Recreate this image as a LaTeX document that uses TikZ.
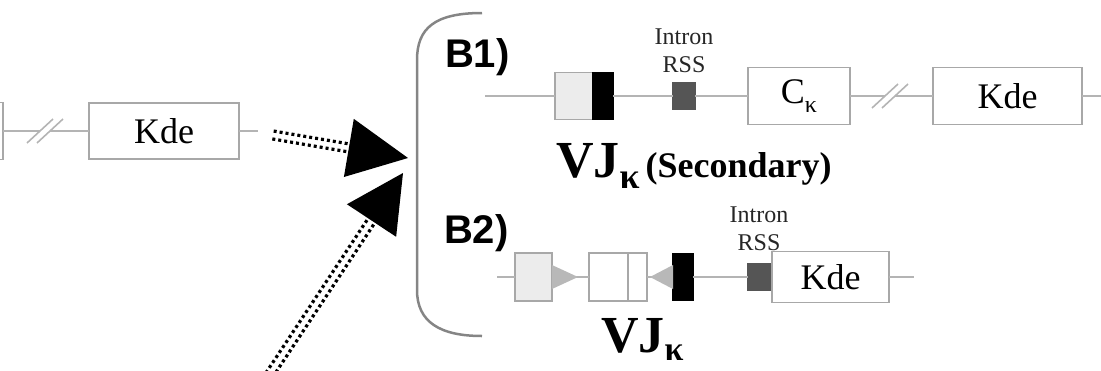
\documentclass[tikz,border=0pt]{standalone}
\usepackage{fontspec}
\setmainfont{Liberation Serif}
\setsansfont{Liberation Sans}
\usetikzlibrary{positioning, calc}
\definecolor{strandgrey}{HTML}{B4B4B4}
\definecolor{boxgrey}{HTML}{A8A8A8}
\definecolor{palegrey}{HTML}{ECECEC}
\definecolor{rssgrey}{HTML}{555555}
\definecolor{wedgegrey}{HTML}{B8B8B8}
\definecolor{bracketgrey}{HTML}{858585}

\begin{document}
\begin{tikzpicture}[x=1pt, y=-1pt,
    every node/.style={inner sep=0pt, outer sep=0pt},
    gene/.style={rectangle, draw=boxgrey, line width=1.6pt, fill=white, minimum height=57pt, font=\fontsize{36}{36}\selectfont},
    segment/.style={rectangle, draw=boxgrey, line width=1.6pt, minimum height=47pt},
    strand/.style={draw=strandgrey, line width=2pt},
    slashmark/.style={draw=strandgrey, line width=1.6pt},
    intron/.style={font=\fontsize{24}{28}\selectfont, align=center, text=black!85},
    shaft/.style={line width=3.2pt, dash pattern=on 3pt off 3pt},
    tag/.style={font=\sffamily\bfseries\fontsize{40}{40}\selectfont, anchor=base west}]
    \useasboundingbox (0,0) rectangle (1101,370);

    % upstream Kde
    \node (prevgene) [gene, minimum width=120pt, anchor=east] at (3,131) {};
    \node (kdeL) [gene, minimum width=150pt, minimum height=56pt] at (164,131) {Kde};
    \coordinate (cutL1) at (40,131);
    \coordinate (cutL2) at (50,131);
    \coordinate (stubL) at (258,131);
    \draw[strand] (prevgene.east) -- (cutL1);
    \draw[strand] (cutL2) -- (kdeL.west);
    \draw[strand] (kdeL.east) -- (stubL);
    \draw[slashmark] ($(cutL1)+(-13,12)$) -- ($(cutL1)+(13,-12)$);
    \draw[slashmark] ($(cutL2)+(-13,12)$) -- ($(cutL2)+(13,-12)$);

    % bracket
    \draw[bracketgrey, line width=2.5pt] (482,13) .. controls (435,13) and (417,28) .. (417,60) -- (417,290) .. controls (417,322) and (440,336) .. (482,336);

    % arrows
    \coordinate (tailA) at (273,135);
    \coordinate (tipA) at (408,158);
    \coordinate (tailB) at (266,380);
    \coordinate (tipB) at (403,173);
    \coordinate (baseA) at ($(tipA)!60pt!(tailA)$);
    \coordinate (baseB) at ($(tipB)!57pt!(tailB)$);
    \draw[shaft] ($(tailA)!4pt!90:(tipA)$) -- ($(baseA)!4pt!90:(tipA)$);
    \draw[shaft] ($(tailA)!4pt!-90:(tipA)$) -- ($(baseA)!4pt!-90:(tipA)$);
    \draw[shaft] ($(tailB)!4pt!90:(tipB)$) -- ($(baseB)!4pt!90:(tipB)$);
    \draw[shaft] ($(tailB)!4pt!-90:(tipB)$) -- ($(baseB)!4pt!-90:(tipB)$);
    \fill ($(baseA)!29.5pt!90:(tipA)$) -- (tipA) -- ($(baseA)!29.5pt!-90:(tipA)$) -- cycle;
    \fill ($(baseB)!29.5pt!90:(tipB)$) -- (tipB) -- ($(baseB)!29.5pt!-90:(tipB)$) -- cycle;

    % B1 row
    \node (tagA) [tag] at (445,67) {B1)};
    \coordinate (startA) at (485,96);
    \node (vA) [segment, fill=palegrey, minimum width=38pt] at (574,96) {};
    \node (jA) [segment, fill=black, draw=black, minimum width=20pt, right=0pt of vA] {};
    \node (rssA) [segment, fill=rssgrey, draw=rssgrey, minimum width=22pt, minimum height=27pt] at (684,96) {};
    \node (ck) [gene, minimum width=102pt] at (799,96) {C\raisebox{-9pt}{\fontsize{24}{24}\selectfont κ}};
    \coordinate (cutA1) at (885,96);
    \coordinate (cutA2) at (895,96);
    \node (kdeA) [gene, minimum width=149pt] at (1007.5,96) {Kde};
    \coordinate (endA) at (1110,96);
    \draw[strand] (startA) -- (vA.west);
    \draw[strand] (jA.east) -- (rssA.west);
    \draw[strand] (rssA.east) -- (ck.west);
    \draw[strand] (ck.east) -- (cutA1);
    \draw[strand] (cutA2) -- (kdeA.west);
    \draw[strand] (kdeA.east) -- (endA);
    \draw[slashmark] ($(cutA1)+(-13,12)$) -- ($(cutA1)+(13,-12)$);
    \draw[slashmark] ($(cutA2)+(-13,12)$) -- ($(cutA2)+(13,-12)$);
    \node (rssAtxt) [intron, anchor=south] at ([yshift=10pt]rssA.north) {Intron\\RSS};
    \node (vjAtxt) [anchor=base west, font=\bfseries\fontsize{52}{52}\selectfont] at (556,177) {VJ\raisebox{-11pt}{\fontsize{36}{36}\selectfont κ}{\fontsize{36}{36}\selectfont\,(Secondary)}};

    % B2 row
    \node (tagB) [tag] at (444,243) {B2)};
    \coordinate (startB) at (497,277);
    \node (vB) [segment, fill=palegrey, minimum width=37pt, minimum height=48pt] at (533.5,277) {};
    \node (w1B) [segment, fill=white, minimum width=39pt, minimum height=48pt] at (608.5,277) {};
    \node (w2B) [segment, fill=white, minimum width=19pt, minimum height=48pt, right=0pt of w1B] {};
    \node (jB) [segment, fill=black, draw=black, minimum width=20pt] at (683,277) {};
    \node (rssB) [segment, fill=rssgrey, draw=rssgrey, minimum width=22pt, minimum height=27pt] at (759,277) {};
    \node (kdeB) [gene, minimum width=117pt, minimum height=51pt, right=2pt of rssB] {Kde};
    \coordinate (endB) at (914,277);
    \draw[strand] (startB) -- (vB.west);
    \draw[strand] (vB.east) -- (w1B.west);
    \draw[strand] (w2B.east) -- (jB.west);
    \draw[strand] (jB.east) -- (rssB.west);
    \draw[strand] (kdeB.east) -- (endB);
    \fill[wedgegrey] ([yshift=12pt]vB.east) -- ([xshift=26pt]vB.east) -- ([yshift=-12pt]vB.east) -- cycle;
    \fill[wedgegrey] ([yshift=12pt]jB.west) -- ([xshift=-23pt]jB.west) -- ([yshift=-12pt]jB.west) -- cycle;
    \node (rssBtxt) [intron, anchor=south] at ([yshift=13pt]rssB.north) {Intron\\RSS};
    \node (vjBtxt) [anchor=base west, font=\bfseries\fontsize{52}{52}\selectfont] at (601,352) {VJ\raisebox{-8pt}{\fontsize{34}{34}\selectfont κ}};
\end{tikzpicture}
\end{document}
